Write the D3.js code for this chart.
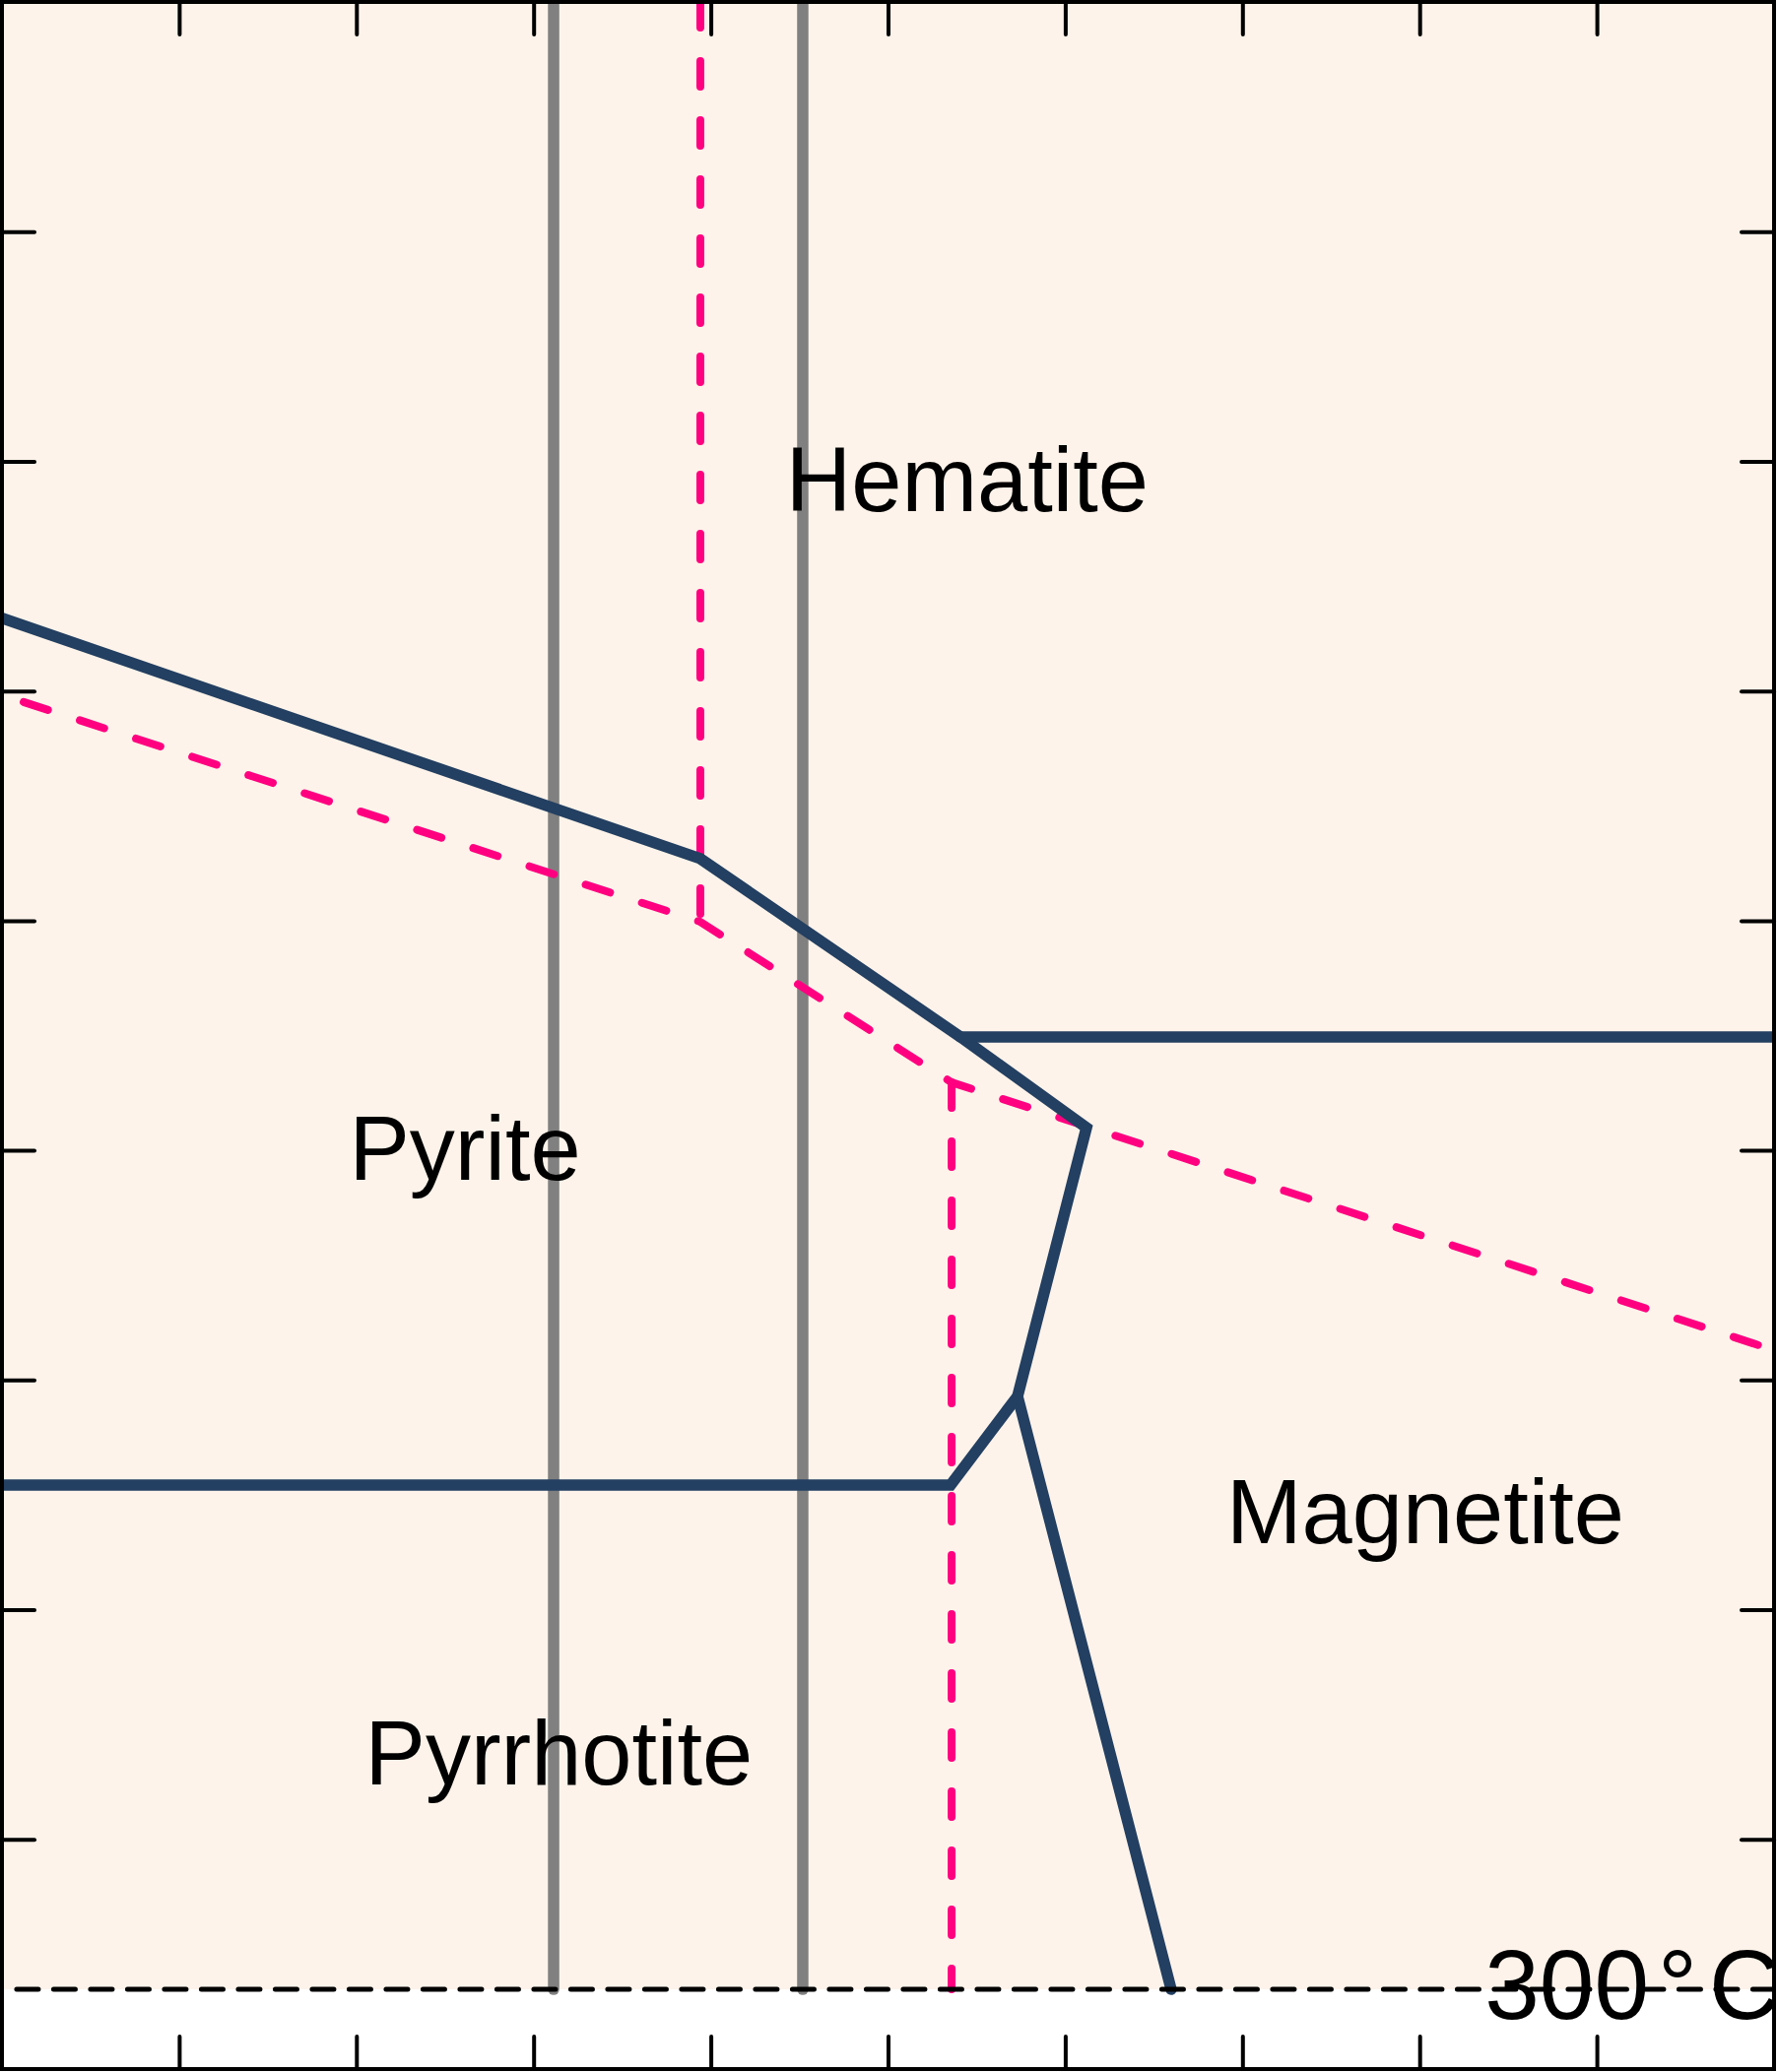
<!DOCTYPE html>
<html>
<head>
<meta charset="utf-8">
<script src="https://cdn.jsdelivr.net/npm/d3@7"></script>
<style>
  html, body { margin: 0; padding: 0; background: #ffffff; }
  svg { display: block; }
</style>
</head>
<body>
<script>
// ---- data (axis units; x: 0..10, y: 0..9) ----
const xTicks = [1, 2, 3, 4, 5, 6, 7, 8, 9];
const yTicks = [1, 2, 3, 4, 5, 6, 7, 8];
const yBase = 0.347;   // 300 °C reference level (dashed line)

// solid mineral boundaries
const boundaryUpper = [[0, 6.317], [3.941, 5.270], [5.409, 4.494], [6.120, 4.099], [5.731, 2.929], [5.353, 2.543], [0, 2.543]];
const boundaryHemMag = [[5.409, 4.494], [10, 4.494]];
const boundaryPoMag = [[5.731, 2.929], [6.598, 0.347]];

// dashed sulfur-species boundaries
const sulfurDiag = [[0.122, 5.952], [3.941, 4.995], [5.359, 4.296], [10, 3.130]];
const sulfurVert1 = [[3.941, 9], [3.941, 4.995]];
const sulfurVert2 = [[5.359, 4.296], [5.359, 0.347]];

// grey verticals
const greyLines = [3.113, 4.519];

// region labels
const labels = [
  { text: "Hematite", x: 5.447, y: 6.783 },
  { text: "Pyrite", x: 2.613, y: 3.872 },
  { text: "Pyrrhotite", x: 3.143, y: 1.239 },
  { text: "Magnetite", x: 8.032, y: 2.289 }
];
const tempLabel = { x: 8.367, y: 0.219 };

// ---- layout ----
const W = 1804, H = 2104;
const x = d3.scaleLinear().domain([0, 10]).range([2, 1801]);
const y = d3.scaleLinear().domain([0, 9]).range([2101, 2]);

const svg = d3.select("body").append("svg").attr("width", W).attr("height", H);

svg.append("defs").append("clipPath").attr("id", "clip")
  .append("rect").attr("x", x(0)).attr("y", y(9)).attr("width", x(10) - x(0)).attr("height", y(0) - y(9));

const g = svg.append("g").attr("clip-path", "url(#clip)");

// background fill above the 300 °C line
g.append("rect")
  .attr("x", x(0)).attr("y", y(9))
  .attr("width", x(10) - x(0)).attr("height", y(yBase) - y(9))
  .attr("fill", "#fdf3ea");

const line = d3.line().x(d => x(d[0])).y(d => y(d[1]));

// grey verticals
greyLines.forEach(v => {
  g.append("path").attr("d", line([[v, 9.2], [v, yBase]]))
    .attr("fill", "none").attr("stroke", "#808080").attr("stroke-width", 11.5)
    .attr("stroke-linecap", "round");
});

// pink dashed lines
[sulfurDiag, sulfurVert1, sulfurVert2].forEach(pts => {
  g.append("path").attr("d", line(pts))
    .attr("fill", "none").attr("stroke", "#ff0080").attr("stroke-width", 8)
    .attr("stroke-dasharray", "26,34").attr("stroke-linecap", "round")
    .attr("stroke-linejoin", "round");
});

// navy boundaries
[boundaryUpper, boundaryHemMag, boundaryPoMag].forEach(pts => {
  g.append("path").attr("d", line(pts))
    .attr("fill", "none").attr("stroke", "#233f61").attr("stroke-width", 11.5)
    .attr("stroke-linecap", "round").attr("stroke-linejoin", "miter");
});

// 300 °C dashed line
g.append("path").attr("d", line([[0.083, yBase], [10.05, yBase]]))
  .attr("fill", "none").attr("stroke", "#000").attr("stroke-width", 5)
  .attr("stroke-dasharray", "22,15.5").attr("stroke-linecap", "round");

// labels
g.selectAll("text.region").data(labels).enter().append("text")
  .attr("class", "region")
  .attr("x", d => x(d.x)).attr("y", d => y(d.y))
  .attr("text-anchor", "middle")
  .attr("font-family", "Liberation Sans, Arial, sans-serif")
  .attr("font-size", 92)
  .attr("fill", "#000")
  .text(d => d.text);

const t = g.append("text")
  .attr("x", x(tempLabel.x)).attr("y", y(tempLabel.y))
  .attr("font-family", "Liberation Sans, Arial, sans-serif")
  .attr("font-size", 100).attr("fill", "#000");
t.append("tspan").text("300");
t.append("tspan").attr("dx", 9).text("°");
t.append("tspan").attr("dx", 12).text("C");

// ticks (inward on all sides)
const styleAxis = sel => {
  sel.select(".domain").remove();
  sel.selectAll(".tick line").attr("stroke", "#000").attr("stroke-width", 4).attr("stroke-linecap", "round");
  sel.selectAll(".tick text").remove();
};
svg.append("g").attr("transform", `translate(0,${y(0)})`)
  .call(d3.axisBottom(x).tickValues(xTicks).tickSize(-33).tickFormat("")).call(styleAxis);
svg.append("g").attr("transform", `translate(0,${y(9)})`)
  .call(d3.axisTop(x).tickValues(xTicks).tickSize(-33).tickFormat("")).call(styleAxis);
svg.append("g").attr("transform", `translate(${x(0)},0)`)
  .call(d3.axisLeft(y).tickValues(yTicks).tickSize(-33).tickFormat("")).call(styleAxis);
svg.append("g").attr("transform", `translate(${x(10)},0)`)
  .call(d3.axisRight(y).tickValues(yTicks).tickSize(-33).tickFormat("")).call(styleAxis);

// frame
svg.append("rect")
  .attr("x", x(0)).attr("y", y(9))
  .attr("width", x(10) - x(0)).attr("height", y(0) - y(9))
  .attr("fill", "none").attr("stroke", "#000").attr("stroke-width", 4);
</script>
</body>
</html>
